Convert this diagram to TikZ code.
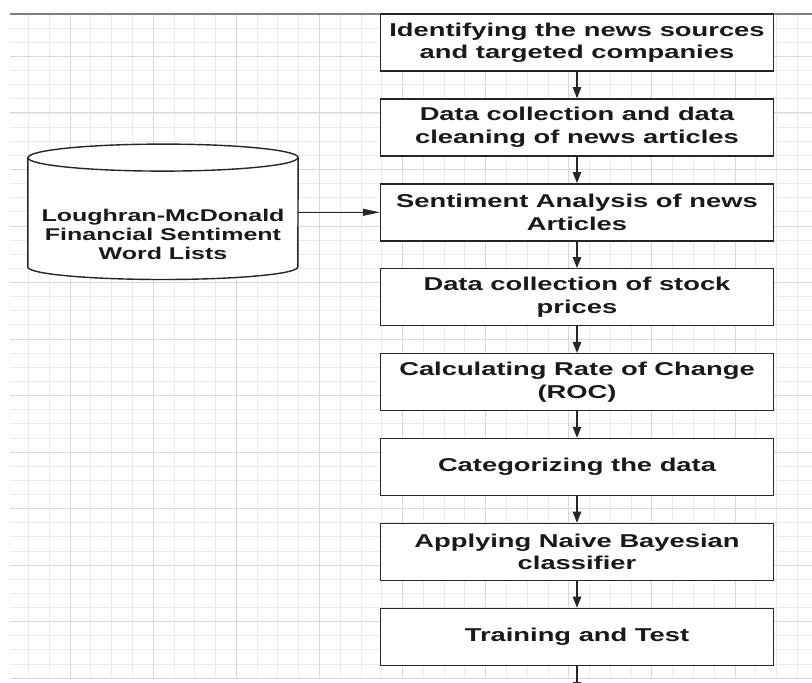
\documentclass[tikz,border=0pt]{standalone}
\usepackage{fontspec}
\setmainfont{Liberation Sans}[FakeStretch=1.47]
\usetikzlibrary{arrows.meta}

\begin{document}
\begin{tikzpicture}[x=1pt, y=-1pt,
	minor/.style={color=black!8, line width=0.8pt},
	major/.style={color=black!15, line width=0.9pt},
	stepbox/.style={draw=black!85, line width=1.4pt, fill=white, minimum width=393pt, minimum height=57pt, inner sep=2pt, align=center, text=black!90, font=\bfseries\fontsize{18.6}{22.5}\selectfont},
	flow/.style={-{Triangle[length=11pt,width=8.5pt]}, line width=1.2pt, color=black!85}]
	\useasboundingbox[fill=white] (0,0) rectangle (812,683);
	\clip (0,0) rectangle (812,683);
	% background grid
	\begin{scope}
		\clip (10,14) rectangle (812,679);
		\foreach \k in {0,...,38} \draw[minor] ({7.66+20.78*\k},14) -- ({7.66+20.78*\k},679);
		\foreach \k in {0,...,47} \draw[minor] (10,{14+14.13*\k}) -- (812,{14+14.13*\k});
		\foreach \k in {3,7,...,35} \draw[major] ({7.66+20.78*\k},14) -- ({7.66+20.78*\k},679);
		\foreach \k in {3,7,...,47} \draw[major] (10,{14+14.13*\k}) -- (812,{14+14.13*\k});
	\end{scope}
	\draw[color=black!50, line width=1.2pt] (10,14) -- (812,14);

	\node[stepbox] (sources) at (577,42.5) {Identifying the news sources\\and targeted companies};
	\node[stepbox] (cleaning) at (577,127.4) {Data collection and data\\cleaning of news articles};
	\node[stepbox] (sentiment) at (577,212.3) {Sentiment Analysis of news\\Articles};
	\node[stepbox] (stock) at (577,297.2) {Data collection of stock\\prices};
	\node[stepbox] (roc) at (577,382.1) {Calculating Rate of Change\\(ROC)};
	\node[stepbox] (categorize) at (577,467) {Categorizing the data};
	\node[stepbox] (bayes) at (577,551.9) {Applying Naive Bayesian\\classifier};
	\node[stepbox] (training) at (577,636.8) {Training and Test};
	\coordinate (next) at (577,693);

	% cylinder round the word lists
	\node[minimum width=270pt, minimum height=109pt, inner sep=0pt] (wordlists) at (163,212.3) {};
	\draw[draw=black!85, line width=1.4pt, fill=white] (wordlists.north west) -- (wordlists.south west)
		arc[start angle=180, end angle=0, x radius=135, y radius=12.5] -- (wordlists.north east)
		arc[start angle=0, end angle=-180, x radius=135, y radius=13.5] -- cycle;
	\draw[draw=black!85, line width=1.4pt] (wordlists.north west) arc[start angle=180, end angle=0, x radius=135, y radius=13.5];
	\node[align=center, text=black!90, font=\bfseries\fontsize{17}{19}\selectfont] (wordtext) at (163,234) {Loughran-McDonald\\Financial Sentiment\\Word Lists};

	\draw[flow] (sources) -- (cleaning);
	\draw[flow] (cleaning) -- (sentiment);
	\draw[flow] (sentiment) -- (stock);
	\draw[flow] (stock) -- (roc);
	\draw[flow] (roc) -- (categorize);
	\draw[flow] (categorize) -- (bayes);
	\draw[flow] (bayes) -- (training);
	\draw[flow] (training) -- (next);
	\draw[-{Triangle[length=17pt,width=7pt]}, line width=1.2pt, color=black!85] (wordlists.east) -- (sentiment.west);
\end{tikzpicture}
\end{document}
